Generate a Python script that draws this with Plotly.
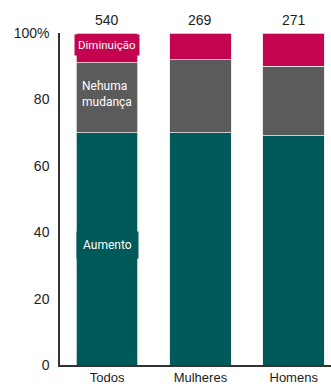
import plotly.graph_objects as go

categories = ["Todos", "Mulheres", "Homens"]
aumento = [70, 70, 69]
nenhuma = [21, 22, 21]
diminuicao = [9, 8, 10]
totals = ["540", "269", "271"]
y_ticks = [0, 20, 40, 60, 80, 100]
y_tick_labels = ["0", "20", "40", "60", "80", "100%"]

TEAL = "#005a59"
GRAY = "#5b5b5b"
RED = "#c4044f"

fig = go.Figure()
for name, vals, col in [("Aumento", aumento, TEAL), ("Nehuma mudança", nenhuma, GRAY), ("Diminuição", diminuicao, RED)]:
    fig.add_trace(go.Bar(x=categories, y=vals, name=name, marker=dict(color=col, line=dict(color="#e8e8e8", width=0.8))))

anns = []
for c, t in zip(categories, totals):
    anns.append(dict(x=c, y=1.0, xref="x", yref="paper", yanchor="bottom", yshift=3, text=t,
                     showarrow=False, font=dict(size=14, color="#222", family="Liberation Sans, Arial")))
lab_font = dict(size=12, color="white", family="Roboto, Liberation Sans")
anns.append(dict(x=categories[0], y=aumento[0] + nenhuma[0] + diminuicao[0] / 2 + 1, text="Diminuição", showarrow=False,
                 font=dict(size=11.5, color="white", family="Roboto, Liberation Sans"), bgcolor=RED, borderpad=3))
anns.append(dict(x=categories[0], y=aumento[0] + nenhuma[0] / 2 + 1, text="Nehuma<br>mudança", showarrow=False, align="left", font=lab_font))
anns.append(dict(x=categories[0], y=36, text="Aumento", showarrow=False, font=dict(size=12, color="white", family="Roboto, Liberation Sans"), bgcolor=TEAL, borderpad=6))

fig.update_layout(
    barmode="stack", bargap=0.34, showlegend=False,
    width=331, height=387, margin=dict(l=60, r=0, t=33, b=22),
    plot_bgcolor="white", paper_bgcolor="white",
    annotations=anns,
    font=dict(family="Liberation Sans, Arial", size=14, color="#222"),
    xaxis=dict(showline=True, linecolor="#333", linewidth=1.5, ticks="", range=[-0.505, 2.4],
               tickfont=dict(size=13)),
    yaxis=dict(range=[0, 100], tickvals=y_ticks, ticktext=y_tick_labels, showgrid=False, zeroline=False,
               showline=True, linecolor="#333", linewidth=1.5, ticks="", ticklabelstandoff=6),
)
fig.write_html("out.html")
